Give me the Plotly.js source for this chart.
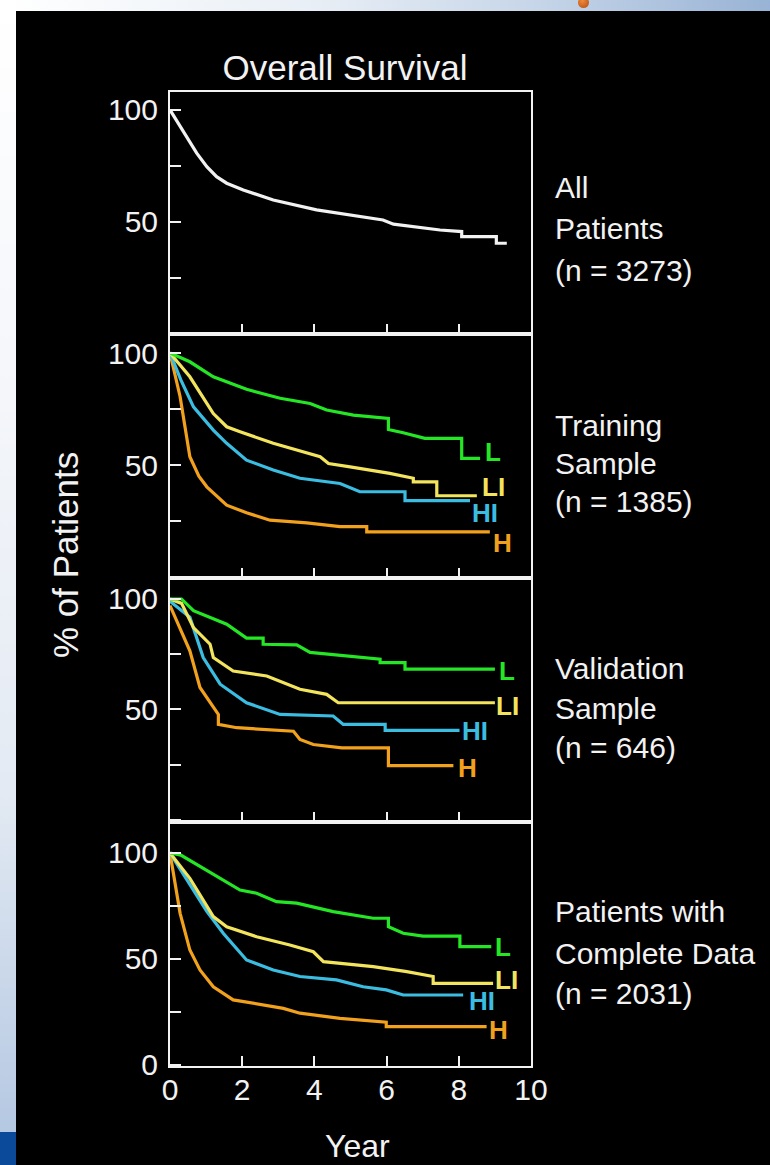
<!DOCTYPE html>
<html>
<head>
<meta charset="utf-8">
<script src="https://cdn.plot.ly/plotly-3.0.1.min.js"></script>
<style>
  html, body { margin: 0; padding: 0; background: #000; }
  #wrap { position: relative; width: 770px; height: 1165px; overflow: hidden; background: #000; }
  #topstrip { position: absolute; left: 0; top: 0; width: 770px; height: 11px;
    background: linear-gradient(to right, #ffffff 0%, #e9eff6 40%, #c6d5e8 70%, #98b3d5 100%); }
  #leftstrip { position: absolute; left: 0; top: 0; width: 16px; height: 1132px;
    background: linear-gradient(to bottom, #ffffff 0%, #f4f6fa 35%, #e3eaf3 70%, #b5c8e2 100%); }
  #leftblue { position: absolute; left: 0; top: 1132px; width: 16px; height: 33px; background: #0b4a9b; }
  #dot { position: absolute; left: 578px; top: -3px; width: 11px; height: 11px; border-radius: 50%;
    background: radial-gradient(circle at 40% 35%, #f08a3a, #b34a10); }
  #chart { position: absolute; left: 0; top: 0; width: 770px; height: 1165px; }
</style>
</head>
<body>
<div id="wrap">
  <div id="topstrip"></div>
  <div id="leftstrip"></div>
  <div id="leftblue"></div>
  <div id="dot"></div>
  <div id="chart"></div>
</div>
<script>
// ---------- DATA (years, % surviving) ----------
const allYears = [0, 0.28, 0.74, 1.02, 1.29, 1.57, 2.03, 2.86, 4.06, 5.9, 6.19, 7.48, 8.08, 8.08, 9.04, 9.04, 9.33];
const allSurv  = [100, 92.5, 80.7, 74.7, 70.2, 67.3, 64.3, 59.8, 55.4, 50.9, 49, 46.4, 45.7, 43.5, 43.5, 40.5, 40.5];

// Training sample
const trL_t  = [0, 0.55, 1.2, 2.12, 3.05, 3.88, 4.34, 5.08, 6.05, 6.05, 6.46, 7.06, 8.08, 8.08, 8.59];
const trL_v  = [100, 96.1, 89.4, 83.8, 79.8, 77.5, 74.6, 72.3, 70.8, 65.9, 64.4, 61.9, 61.9, 53, 53];
const trLI_t = [0, 0.55, 1.2, 1.57, 1.94, 2.86, 4.16, 4.39, 4.99, 6.09, 6.74, 6.74, 7.39, 7.39, 8.5];
const trLI_v = [100, 89.4, 73, 67.1, 64.9, 59.7, 53.7, 50.7, 49.2, 46.3, 44.1, 42.5, 42.5, 36.3, 36.3];
const trHI_t = [0, 0.3, 0.65, 1.2, 1.57, 2.12, 2.86, 3.6, 4.71, 5.26, 6.51, 6.51, 8.31];
const trHI_v = [100, 88, 76, 65.6, 59.7, 52.2, 47.8, 44.1, 41.8, 38.1, 38.1, 34.1, 34.1];
const trH_t  = [0, 0.28, 0.55, 0.8, 1.02, 1.57, 2.12, 2.77, 3.79, 4.71, 5.45, 5.45, 8.86];
const trH_v  = [100, 80.5, 53.7, 45, 40.3, 32.1, 28.7, 25.4, 24.2, 22.5, 22.5, 20.2, 20.2];

// Validation sample
const vaL_t  = [0, 0.32, 0.65, 1.57, 2.12, 2.58, 2.58, 3.51, 3.88, 4.8, 5.82, 5.82, 6.51, 6.51, 9.0];
const vaL_v  = [100, 100, 94.7, 88.6, 82.3, 82.3, 79.5, 79.2, 75.8, 74.2, 72.7, 71.2, 71.2, 68.2, 68.2];
const vaLI_t = [0, 0.32, 0.65, 1.11, 1.2, 1.75, 2.68, 3.6, 4.34, 4.66, 9.0];
const vaLI_v = [100, 98, 87, 79.5, 73.5, 67.4, 65.1, 59.1, 56.8, 53, 53];
const vaHI_t = [0, 0.55, 0.92, 1.39, 2.12, 3.05, 4.52, 4.8, 5.96, 5.96, 8.02];
const vaHI_v = [99, 91.7, 73.5, 61.4, 53, 47.7, 47, 43.2, 43.2, 40.5, 40.5];
const vaH_t  = [0, 0.37, 0.55, 0.83, 1.34, 1.34, 1.85, 3.42, 3.6, 3.97, 4.76, 6.05, 6.05, 7.85];
const vaH_v  = [97, 82.6, 76.5, 59.9, 47.7, 43.2, 41.7, 40.1, 36.4, 34.1, 32.6, 32.6, 24.5, 24.5];

// Patients with complete data
const cdL_t  = [0, 0.3, 1.94, 2.4, 2.95, 3.51, 4.52, 5.63, 6.05, 6.05, 6.46, 7.01, 8.03, 8.03, 8.9];
const cdL_v  = [100, 99, 82.5, 81, 77, 76.3, 72.3, 69.2, 69.2, 65.2, 62.1, 60.8, 60.8, 55.8, 55.8];
const cdLI_t = [0, 0.55, 1.2, 1.57, 2.4, 3.32, 3.97, 4.25, 5.63, 6.56, 7.29, 7.29, 8.95];
const cdLI_v = [100, 88, 70, 65.2, 60.5, 56.6, 53.4, 48.7, 46.4, 44, 41.7, 38.5, 38.5];
const cdHI_t = [0, 0.55, 1.02, 1.48, 2.12, 2.86, 3.6, 4.61, 5.35, 5.99, 6.46, 8.12];
const cdHI_v = [100, 85, 72.5, 62, 49.5, 44.8, 41.7, 40.1, 36.9, 35.4, 33, 33];
const cdH_t  = [0, 0.28, 0.55, 0.83, 1.2, 1.75, 3.14, 3.6, 4.71, 5.99, 5.99, 8.77];
const cdH_v  = [100, 71.5, 54.2, 44.8, 36.9, 30.7, 26.7, 24.4, 22, 20.2, 18.1, 18.1];

const groupNames = ['L', 'LI', 'HI', 'H'];
const panelTexts = [
  ['All', 'Patients', '(n = 3273)'],
  ['Training', 'Sample', '(n = 1385)'],
  ['Validation', 'Sample', '(n = 646)'],
  ['Patients with', 'Complete Data', '(n = 2031)']
];
const xTickVals = [0, 2, 4, 6, 8, 10];
const xTickText = ['0', '2', '4', '6', '8', '10'];
const yTickVals = [0, 25, 50, 75, 100];

// ---------- STYLE ----------
const FONT = 'Liberation Sans, Arial, Helvetica, sans-serif';
const WHITE = '#f2f2f2';
const COLORS = { L: '#25e625', LI: '#f3e45e', HI: '#3bbde2', H: '#f2a11c' };
const LW = 3.2;

const traces = [];
function addLine(x, y, color, xa, ya) {
  traces.push({ x: x, y: y, type: 'scatter', mode: 'lines', xaxis: xa, yaxis: ya,
    line: { color: color, width: LW, shape: 'linear' }, hoverinfo: 'skip', showlegend: false });
}
addLine(allYears, allSurv, WHITE, 'x', 'y');
const sets = [
  [[trL_t, trL_v], [trLI_t, trLI_v], [trHI_t, trHI_v], [trH_t, trH_v]],
  [[vaL_t, vaL_v], [vaLI_t, vaLI_v], [vaHI_t, vaHI_v], [vaH_t, vaH_v]],
  [[cdL_t, cdL_v], [cdLI_t, cdLI_v], [cdHI_t, cdHI_v], [cdH_t, cdH_v]]
];
sets.forEach((s, i) => {
  for (let g = 3; g >= 0; g--) addLine(s[g][0], s[g][1], COLORS[groupNames[g]], 'x' + (i + 2), 'y' + (i + 2));
});

function xAx(showLabels, anchor) {
  return { domain: [0, 1], range: [0, 10], anchor: anchor,
    showline: true, mirror: true, linecolor: WHITE, linewidth: 2,
    ticks: 'inside', ticklen: 10, tickwidth: 2, tickcolor: WHITE,
    tickvals: showLabels ? xTickVals : [2, 4, 6, 8],
    ticktext: showLabels ? xTickText : ['', '', '', ''],
    showticklabels: showLabels, ticklabelstandoff: -4,
    tickfont: { family: FONT, size: 30, color: WHITE },
    showgrid: false, zeroline: false, fixedrange: true };
}
function yAx(domain, range, anchor, showZero) {
  return { domain: domain, range: range, anchor: anchor,
    showline: true, mirror: true, linecolor: WHITE, linewidth: 2,
    ticks: 'inside', ticklen: 11, tickwidth: 2, tickcolor: WHITE,
    tickvals: yTickVals, ticktext: [showZero ? '0' : '', '', '50', '', '100'],
    ticklabelstandoff: 4,
    tickfont: { family: FONT, size: 30, color: WHITE },
    showgrid: false, zeroline: false, fixedrange: true };
}

const PT = 92, PB = 1066, PH = PB - PT;
const pY = px => (PB - px) / PH;
const pX = px => (px - 170) / 361;

const annotations = [];
annotations.push({ text: '% of Patients', xref: 'paper', yref: 'paper', x: pX(65), y: pY(555),
  textangle: -90, showarrow: false, xanchor: 'center', yanchor: 'middle',
  font: { family: FONT, size: 35, color: WHITE } });
annotations.push({ text: 'Year', xref: 'paper', yref: 'paper', x: pX(357), y: pY(1146),
  showarrow: false, xanchor: 'center', yanchor: 'middle',
  font: { family: FONT, size: 32, color: WHITE } });

const textRows = [[187, 229, 270], [425, 463, 502], [668, 708, 747], [912, 953, 993]];
panelTexts.forEach((lines, i) => {
  lines.forEach((t, j) => {
    annotations.push({ text: t, xref: 'paper', yref: 'paper', x: pX(553), y: pY(textRows[i][j]),
      showarrow: false, xanchor: 'left', yanchor: 'middle',
      font: { family: FONT, size: 30, color: WHITE } });
  });
});

const labelPos = [
  [[8.95, 56.0], [8.95, 40.3], [8.73, 28.6], [9.2, 15.0]],
  [[9.33, 67.3], [9.36, 51.4], [8.45, 40], [8.25, 23.6]],
  [[9.22, 55.7], [9.33, 40.3], [8.64, 30.3], [9.09, 16.3]]
];
labelPos.forEach((panel, i) => {
  panel.forEach((p, g) => {
    annotations.push({ text: groupNames[g], xref: 'x' + (i + 2), yref: 'y' + (i + 2),
      x: p[0], y: p[1], showarrow: false, xanchor: 'center', yanchor: 'middle',
      font: { family: FONT, size: 26, color: COLORS[groupNames[g]], weight: 'bold' } });
  });
});

const layout = {
  width: 770, height: 1165,
  margin: { l: 170, r: 239, t: PT, b: 1165 - PB, pad: 0 },
  paper_bgcolor: 'rgba(0,0,0,0)', plot_bgcolor: '#000',
  showlegend: false,
  title: { text: 'Overall Survival', xref: 'paper', x: pX(345), xanchor: 'center',
    yref: 'container', y: 1 - 68 / 1165, yanchor: 'middle',
    font: { family: FONT, size: 35, color: WHITE } },
  xaxis:  xAx(false, 'y'),
  xaxis2: xAx(false, 'y2'),
  xaxis3: xAx(false, 'y3'),
  xaxis4: xAx(true, 'y4'),
  yaxis:  yAx([pY(334), 1], [0, 108], 'x', false),
  yaxis2: yAx([pY(578), pY(334)], [-0.4, 108.5], 'x2', false),
  yaxis3: yAx([pY(822), pY(578)], [-1, 109.5], 'x3', false),
  yaxis4: yAx([0, pY(822)], [-0.5, 114.6], 'x4', true),
  annotations: annotations
};

Plotly.newPlot('chart', traces, layout, { staticPlot: true, displayModeBar: false });
</script>
</body>
</html>
